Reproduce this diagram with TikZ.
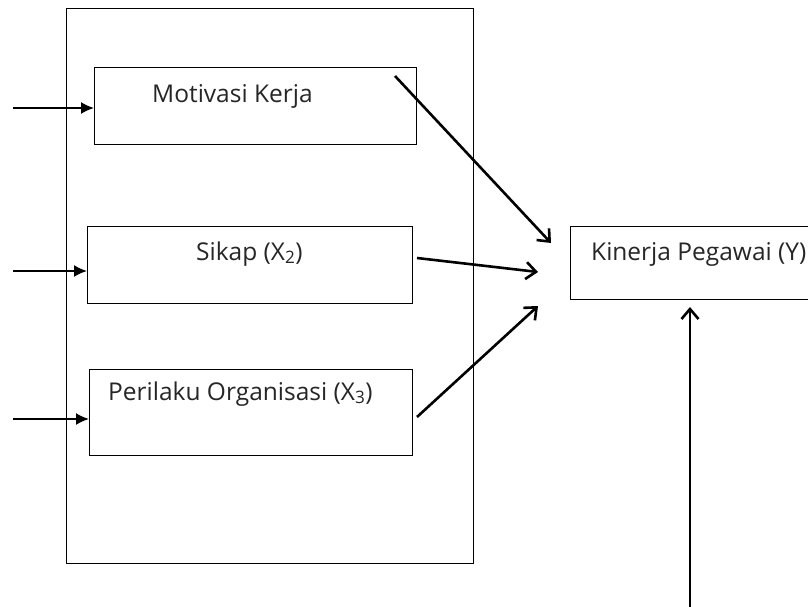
\documentclass[tikz,border=0pt]{standalone}
\usepackage{fontspec}
\setmainfont{Open Sans}
\usetikzlibrary{arrows.meta}
\begin{document}
\begin{tikzpicture}[x=1pt,y=-1pt,
  box/.style={draw, line width=1.2pt, rectangle, inner sep=0pt, anchor=north west},
  lbl/.style={font=\fontsize{24.5}{29}\selectfont, text=black!85, inner sep=0pt, anchor=base west},
  inarrow/.style={line width=1.8pt, -{Latex[length=13pt,width=12pt]}},
  bigarrow/.style={line width=2.6pt, -{Straight Barb[length=10pt,width=17pt]}}]
\useasboundingbox (0,0) rectangle (808,607);
\clip (0,0) rectangle (808,607);
\node[box, minimum width=407pt, minimum height=555pt] (outer) at (66,8) {};
\node[box, minimum width=322pt, minimum height=77pt] (b1) at (94,67) {};
\node[box, minimum width=325pt, minimum height=77pt] (b2) at (87,226) {};
\node[box, minimum width=323pt, minimum height=86pt] (b3) at (89,369) {};
\node[box, minimum width=270pt, minimum height=73pt] (y) at (570,226) {};
\node[lbl] (t1) at (152,103) {Motivasi Kerja};
\node[lbl] (t2) at (196,260) {Sikap (X\textsubscript{2})};
\node[lbl] (t3) at (108,400) {Perilaku Organisasi (X\textsubscript{3})};
\node[lbl] (ty) at (591,260) {Kinerja Pegawai (Y)};
\coordinate (s1) at (13,108);
\coordinate (s2) at (13,271);
\coordinate (s3) at (13,419);
\draw[inarrow] (s1) -- (s1 -| b1.west);
\draw[inarrow] (s2) -- (s2 -| b2.west);
\draw[inarrow] (s3) -- (s3 -| b3.west);
\coordinate (a1s) at (395,76);
\coordinate (a1e) at (551,243);
\coordinate (a2s) at (417,258);
\coordinate (a2e) at (538,272);
\coordinate (a3s) at (417,417);
\coordinate (a3e) at (538,306);
\coordinate (vs) at (690,612);
\coordinate (ve) at (690,307);
\draw[bigarrow] (a1s) -- (a1e);
\draw[bigarrow] (a2s) -- (a2e);
\draw[bigarrow] (a3s) -- (a3e);
\draw[bigarrow] (vs) -- (ve);
\end{tikzpicture}
\end{document}
